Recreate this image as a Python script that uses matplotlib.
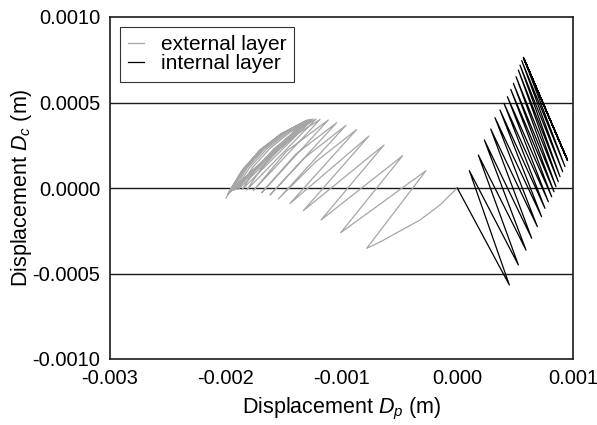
import numpy as np
import matplotlib
matplotlib.use("Agg")
import matplotlib.pyplot as plt

plt.rcParams['font.family'] = ['Liberation Sans', 'DejaVu Sans']
plt.rcParams['mathtext.fontset'] = 'custom'
plt.rcParams['mathtext.rm'] = 'Liberation Sans'
plt.rcParams['mathtext.it'] = 'Liberation Sans:italic'

# ---- data (values in mm) ----
ext_dp_mm = [0.0, -0.1490, -0.3218, -0.4946, -0.6674,
             -0.7823, -0.2700, -1.0069, -0.4713, -1.1771, -0.6328,
             -1.3300, -0.7624, -1.4449, -0.8687, -1.2246,
             -1.5460, -0.9611, -1.3153, -1.6177, -1.0415, -1.3957,
             -1.6894, -1.1140, -1.4743,
             -1.7620, -1.1857, -1.3758, -1.5451, -1.6929,
             -1.8190, -1.2203, -1.4147, -1.5857, -1.7343,
             -1.8596, -1.2462, -1.4454, -1.6194, -1.7693,
             -1.8942, -1.2635, -1.4665, -1.6436, -1.7948,
             -1.9201, -1.2808, -1.4864, -1.6644, -1.8147,
             -1.9374, -1.2937, -1.5002, -1.6790, -1.8311,
             -1.9546, -1.3024, -1.5119, -1.6929, -1.8445,
             -1.9676, -1.3110, -1.5227, -1.7050, -1.8553,
             -1.9762, -1.3153, -1.5283, -1.7110, -1.8626,
             -1.9849, -1.3197, -1.5343, -1.7197, -1.8739,
             -1.9978]
ext_dc_mm = [0.0, -0.0994, -0.1871, -0.2515, -0.3158,
             -0.3526, 0.1012, -0.2614, 0.1889, -0.1871, 0.2515,
             -0.1327, 0.3041, -0.0906, 0.3421, 0.1520,
             -0.0643, 0.3667, 0.1784, -0.0409, 0.3819, 0.1977,
             -0.0275, 0.3977, 0.2152,
             -0.0158, 0.4006, 0.3193, 0.2234, 0.1129,
             -0.0117, 0.4035, 0.3240, 0.2281, 0.1175,
             -0.0088, 0.4035, 0.3257, 0.2304, 0.1193,
             -0.0088, 0.4018, 0.3246, 0.2298, 0.1181,
             -0.0117, 0.3994, 0.3240, 0.2298, 0.1170,
             -0.0146, 0.3977, 0.3219, 0.2275, 0.1143,
             -0.0175, 0.3947, 0.3193, 0.2246, 0.1105,
             -0.0234, 0.3918, 0.3173, 0.2228, 0.1067,
             -0.0292, 0.3889, 0.3129, 0.2170, 0.0994,
             -0.0380, 0.3860, 0.3056, 0.2053, 0.0833,
             -0.0585]

int_dp_mm = [0.0, 0.450, 0.1044, 0.528, 0.182, 0.594, 0.234, 0.643, 0.289,
             0.692, 0.326, 0.729, 0.369, 0.758, 0.404, 0.787, 0.433,
             0.816, 0.462, 0.836, 0.485, 0.853, 0.508, 0.873, 0.528,
             0.888, 0.542, 0.911, 0.557, 0.931, 0.571, 0.951,
             0.575, 0.948, 0.578, 0.945, 0.574, 0.953, 0.577, 0.950]
int_dc_mm = [0.0, -0.567, 0.1014, -0.450, 0.193, -0.363, 0.281, -0.294, 0.345,
             -0.226, 0.411, -0.168, 0.456, -0.119, 0.495, -0.080, 0.534,
             -0.051, 0.577, -0.022, 0.612, 0.008, 0.651, 0.037, 0.690,
             0.066, 0.719, 0.095, 0.745, 0.125, 0.764, 0.164,
             0.758, 0.170, 0.752, 0.175, 0.760, 0.160, 0.755, 0.167]

series_labels = ["external layer", "internal layer"]
x_ticks = [-0.003, -0.002, -0.001, 0.000, 0.001]
x_ticklabels = ["-0.003", "-0.002", "-0.001", "0.000", "0.001"]
y_ticks = [-0.0010, -0.0005, 0.0, 0.0005, 0.0010]
y_ticklabels = ["-0.0010", "-0.0005", "0.0000", "0.0005", "0.0010"]
h_lines = [-0.0005, 0.0, 0.0005]

# ---- figure ----
fig = plt.figure(figsize=(5.97, 4.25), dpi=100)
ax = fig.add_axes([110/597, 1-359/425, 463/597, 342/425])

for yv in h_lines:
    ax.axhline(yv, color='#1a1a1a', lw=1.0, zorder=1)

ax.plot(np.array(ext_dp_mm)*1e-3, np.array(ext_dc_mm)*1e-3,
        color='#a6a6a6', lw=0.9, label=series_labels[0], zorder=2)
ax.plot(np.array(int_dp_mm)*1e-3, np.array(int_dc_mm)*1e-3,
        color='black', lw=0.9, label=series_labels[1], zorder=3)

ax.set_xlim(-0.003, 0.001)
ax.set_ylim(-0.001, 0.001)
ax.set_xticks(x_ticks)
ax.set_xticklabels(x_ticklabels)
ax.set_yticks(y_ticks)
ax.set_yticklabels(y_ticklabels)
ax.tick_params(length=0, labelsize=14.5, pad=7)
for s in ax.spines.values():
    s.set_linewidth(1.2)
    s.set_color('#1a1a1a')

ax.set_xlabel("Displacement $D_p$ (m)", fontsize=15.5, labelpad=6)
ax.set_ylabel("Displacement $D_c$ (m)", fontsize=15.5, labelpad=-1)

leg = ax.legend(loc='upper left', bbox_to_anchor=((120-110)/463, (359-27)/342),
                borderaxespad=0, fontsize=15, frameon=True, fancybox=False,
                edgecolor='black', handlelength=0.75, handletextpad=0.8,
                labelspacing=0.0, borderpad=0.4)
leg.get_frame().set_linewidth(0.8)

fig.savefig("out.png", dpi=100)
